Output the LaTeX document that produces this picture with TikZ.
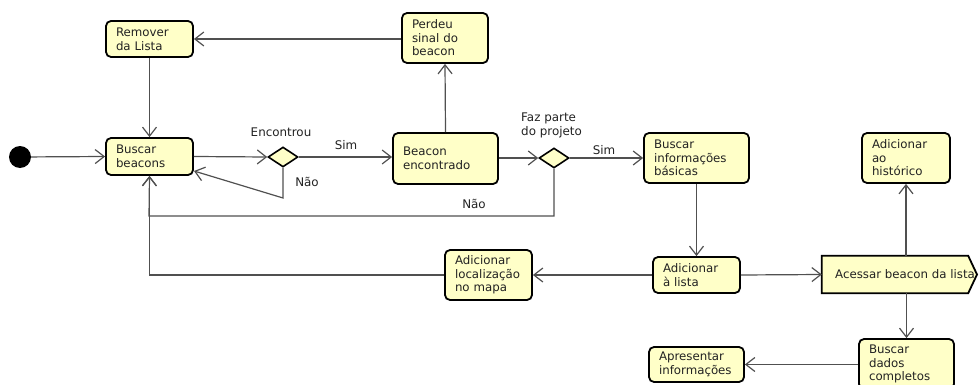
\documentclass[tikz,border=0pt]{standalone}
\usepackage{fontspec}
\setmainfont{DejaVu Sans}
\usetikzlibrary{arrows.meta,shapes.geometric}
\definecolor{boxfill}{HTML}{FFFFC8}
\definecolor{linegray}{HTML}{505050}
\definecolor{txt}{HTML}{222222}
\begin{document}
\begin{tikzpicture}[x=1pt,y=-1pt,
  actbox/.style={draw=black, line width=1.8pt, rounded corners=5pt, fill=boxfill,
    align=left, inner xsep=10pt, inner ysep=0pt, text=txt,
    font=\fontsize{11.8}{13.6}\selectfont},
  decis/.style={diamond, draw=black, line width=1.6pt, fill=boxfill, inner sep=0pt,
    minimum width=30pt, minimum height=20pt, aspect=1.5},
  lbl/.style={inner sep=0pt, text=txt, font=\fontsize{11.9}{14}\selectfont, align=left},
  conn/.style={draw=linegray, line width=1.2pt, -{Straight Barb[length=9pt,width=14pt,line width=1.2pt]}},
  plain/.style={draw=linegray, line width=1.2pt}
]
\useasboundingbox (0,0) rectangle (979,385);
\clip (0,0) rectangle (979,385);

% start
\node[circle, fill=black, minimum size=22pt, inner sep=0pt] (start) at (20,157) {};

% activity boxes
\node[actbox, text width=67pt, minimum height=36pt] (remover) at (149.5,39) {Remover\\da Lista};
\node[actbox, text width=67pt, minimum height=37pt] (buscar) at (149.5,156.5) {Buscar\\beacons};
\node[actbox, text width=66pt, minimum height=50pt] (perdeu) at (445,38) {Perdeu\\sinal do\\beacon};
\node[actbox, text width=85pt, minimum height=51pt] (encontrado) at (445.5,158.5) {Beacon\\encontrado};
\node[actbox, text width=85pt, minimum height=50pt] (info) at (696.5,158) {Buscar\\informações\\básicas};
\node[actbox, text width=67pt, minimum height=36pt] (lista) at (696.5,275) {Adicionar\\à lista};
\node[actbox, text width=67pt, minimum height=50pt] (local) at (488.5,275) {Adicionar\\localização\\no mapa};
\node[actbox, text width=68pt, minimum height=50pt] (hist) at (906,158) {Adicionar\\ao\\histórico};
\node[actbox, text width=75pt, minimum height=50pt] (dados) at (906.5,364) {Buscar\\dados\\completos};
\node[actbox, text width=75pt, minimum height=35pt] (apres) at (696.5,364.5) {Apresentar\\informações};

% signal-shaped box
\node[inner sep=0pt, minimum width=146pt, minimum height=37pt] (acessar) at (895,274.5) {};
\draw[line width=1.8pt, fill=boxfill, line join=miter]
  (acessar.north west) -- (acessar.north east) -- (977,274.5) -- (acessar.south east) -- (acessar.south west) -- cycle;
\node[lbl, font=\fontsize{11.8}{14}\selectfont, anchor=west] (acessartxt) at (835,274.5) {Acessar beacon da lista};

% decisions
\node[decis] (d1) at (283,157) {};
\node[decis] (d2) at (554,158) {};

% labels
\node[lbl] (lenc) at (281,132) {Encontrou};
\node[lbl] (lnao1) at (307,182) {Não};
\node[lbl] (lsim1) at (346,145) {Sim};
\node[lbl, anchor=west] (lfaz) at (521,125) {Faz parte\\do projeto};
\node[lbl] (lsim2) at (604,150) {Sim};
\node[lbl] (lnao2) at (474,204) {Não};

% helper coordinates
\coordinate (c1) at (283,198);
\coordinate (c1end) at (194,171);
\coordinate (c2) at (149,216);

% connectors
\draw[conn] (start) -- (buscar.west);
\draw[conn] (buscar.east) -- (d1.west);
\draw[conn] (d1.east) -- (d1.east -| encontrado.west);
\draw[conn] (d1.south) -- (c1) -- (c1end);
\draw[conn] (encontrado.north) -- (perdeu.south);
\draw[conn] (remover.east -| perdeu.west) -- (remover.east);
\draw[conn] (remover.south) -- (buscar.north);
\draw[conn] (encontrado.east |- d2.west) -- (d2.west);
\draw[conn] (d2.east) -- (d2.east -| info.west);
\draw[conn] (d2.south) |- (c2) -- (buscar.south);
\draw[conn] (info.south) -- (lista.north);
\draw[conn] (lista.west) -- (local.east);
\draw[conn] (local.west) -| (buscar.south);
\draw[conn] (lista.east) -- (acessar.west);
\draw[conn] (hist.south |- acessar.north) -- (hist.south);
\draw[conn] (dados.north |- acessar.south) -- (dados.north);
\draw[conn] (apres.east -| dados.west) -- (apres.east);
\end{tikzpicture}
\end{document}
